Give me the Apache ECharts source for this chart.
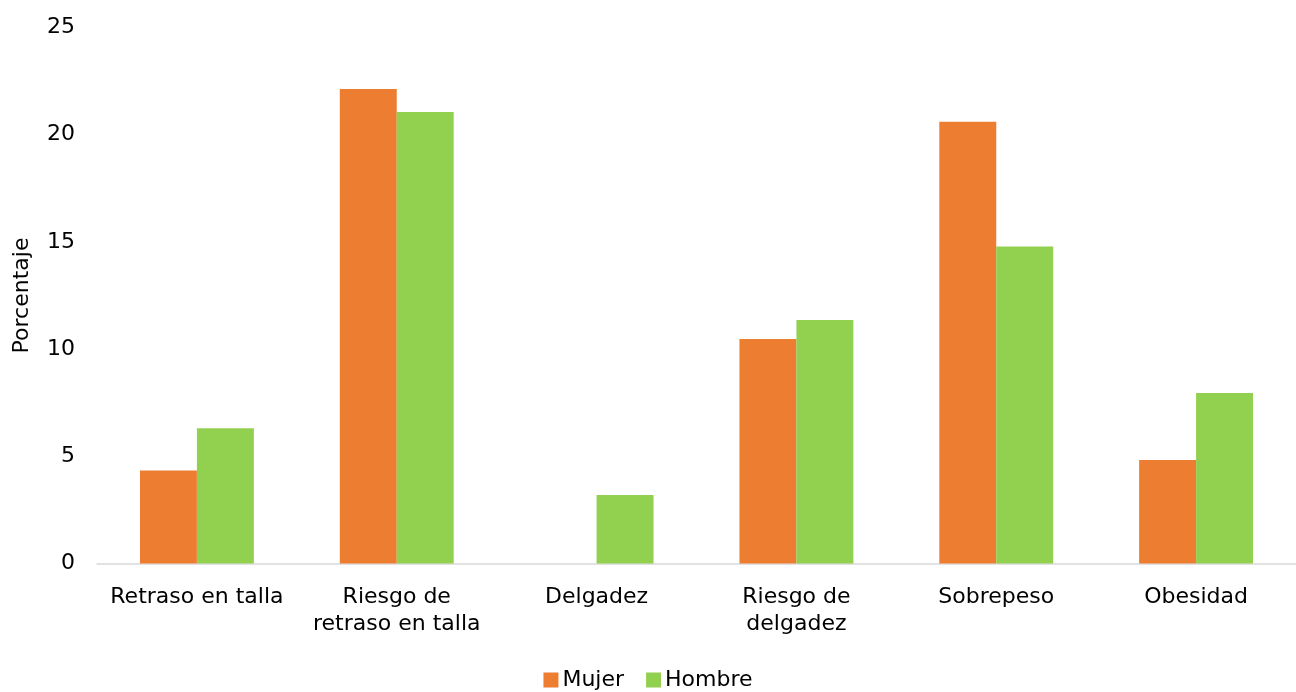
<!DOCTYPE html>
<html>
<head>
<meta charset="utf-8">
<script src="https://cdn.jsdelivr.net/npm/echarts@6/dist/echarts.min.js"></script>
<style>
html,body{margin:0;padding:0;background:#fff;}
#chart{width:1296px;height:692px;}
</style>
</head>
<body>
<div id="chart"></div>
<script>
const categories = ['Retraso en talla', 'Riesgo de\nretraso en talla', 'Delgadez', 'Riesgo de\ndelgadez', 'Sobrepeso', 'Obesidad'];
const mujer = [4.34, 22.13, 0, 10.47, 20.6, 4.83];
const hombre = [6.31, 21.06, 3.19, 11.36, 14.78, 7.95];
const yTicks = [0, 5, 10, 15, 20, 25];

const FONT = 'DejaVu Sans';
const FS = 22;
const chart = echarts.init(document.getElementById('chart'), null, {renderer: 'canvas'});
chart.setOption({
  animation: false,
  textStyle: {fontFamily: FONT},
  grid: {left: 97, top: 27.5, width: 1212.6, height: 536},
  legend: {
    top: 664,
    left: 'center',
    itemWidth: 15, itemHeight: 15, itemGap: 22,
    icon: 'rect',
    textStyle: {fontFamily: FONT, fontSize: FS, color: '#000', padding: [0, 0, 0, -1]},
    data: ['Mujer', 'Hombre']
  },
  xAxis: {
    type: 'category',
    data: categories,
    axisLine: {lineStyle: {color: '#d9d9d9', width: 1.5}},
    axisTick: {show: false},
    axisLabel: {fontFamily: FONT, fontSize: FS, color: '#000', lineHeight: 27, margin: 20, interval: 0}
  },
  yAxis: {
    type: 'value',
    min: yTicks[0], max: yTicks[yTicks.length - 1], interval: 5,
    name: 'Porcentaje',
    nameLocation: 'middle',
    nameGap: 64,
    nameRotate: 90,
    nameTextStyle: {fontFamily: FONT, fontSize: FS, color: '#000'},
    axisLine: {show: false},
    axisTick: {show: false},
    splitLine: {show: false},
    axisLabel: {fontFamily: FONT, fontSize: FS, color: '#000', margin: 22}
  },
  series: [
    {name: 'Mujer', type: 'bar', data: mujer, barGap: '0%', barCategoryGap: '43%',
     itemStyle: {color: '#ED7D31'}},
    {name: 'Hombre', type: 'bar', data: hombre, barGap: '0%', barCategoryGap: '43%',
     itemStyle: {color: '#92D050'}}
  ]
});
</script>
</body>
</html>
